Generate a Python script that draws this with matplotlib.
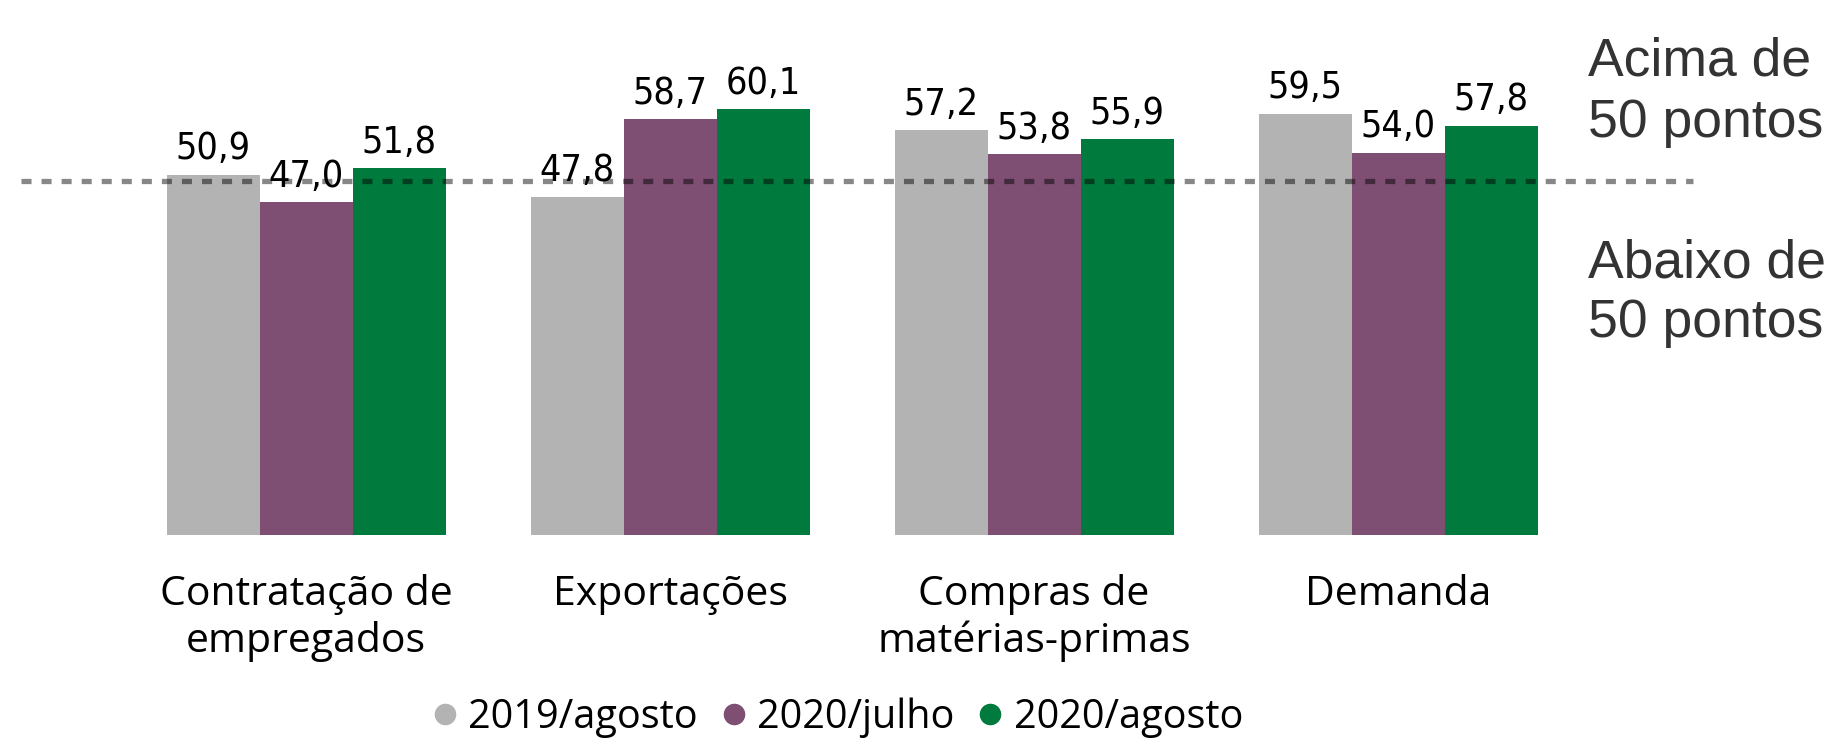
import numpy as np
import matplotlib
matplotlib.use("Agg")
import matplotlib.pyplot as plt
from matplotlib.lines import Line2D

categories = ["Contratação de\nempregados", "Exportações",
              "Compras de\nmatérias-primas", "Demanda"]
series = ["2019/agosto", "2020/julho", "2020/agosto"]
ago_2019 = [50.9, 47.8, 57.2, 59.5]
jul_2020 = [47.0, 58.7, 53.8, 54.0]
ago_2020 = [51.8, 60.1, 55.9, 57.8]
threshold = 50

colors = ["#B3B3B3", "#7E4F73", "#007A3D"]
num_font = ["DejaVu Sans Condensed", "Liberation Sans Narrow", "DejaVu Sans"]
txt_font = ["Open Sans", "DejaVu Sans"]

fig = plt.figure(figsize=(18.28, 7.45), dpi=100)
ax = fig.add_axes([0, 0, 1, 1])
ax.set_xlim(-0.8407, 4.181)
ax.set_ylim(-29.66, 75.56)
ax.axis("off")

x = np.arange(len(categories))
w = 0.2555
for k, (vals, c) in enumerate(zip([ago_2019, jul_2020, ago_2020], colors)):
    xs = x + (k - 1) * w
    ax.bar(xs, vals, width=w, color=c, zorder=2)
    for xi, v in zip(xs, vals):
        ax.annotate(f"{v:.1f}".replace(".", ","), (xi, v), xytext=(0, 11),
                    textcoords="offset points", ha="center", va="baseline",
                    fontsize=27, family=num_font, fontstretch="condensed",
                    color="black", zorder=4)

# linha de referencia (50 pontos)
ax.hlines(threshold, -0.783, 3.81, colors="black", alpha=0.47,
          linewidth=3.8, linestyles=(0, (1.9, 1.9)), zorder=3)

# rotulos das categorias, uma linha de cada vez
for xi, lab in zip(x, categories):
    for j, line in enumerate(lab.split("\n")):
        ax.text(xi, -9.9 - j * 6.64, line, ha="center", va="baseline",
                fontsize=29.5, family=txt_font, color="black")

# textos laterais
side = [("Acima de", 670), ("50 pontos", 608), ("Abaixo de", 468), ("50 pontos", 408)]
for s, yb in side:
    fig.text(1588 / 1828, yb / 745, s, ha="left", va="baseline", fontsize=38.5,
             family=["Liberation Sans", "DejaVu Sans"], color="#333333")

handles = [Line2D([], [], marker="o", linestyle="none", markersize=14.5,
                  markerfacecolor=c, markeredgecolor=c) for c in colors]
fig.legend(handles, series, loc="center", bbox_to_anchor=(838 / 1828, 27 / 745),
           ncol=3, frameon=False, prop={"family": txt_font, "size": 28.5},
           handlelength=0.6, handletextpad=0.3, columnspacing=0.6,
           borderpad=0, borderaxespad=0)

fig.savefig("out.png", dpi=100)
